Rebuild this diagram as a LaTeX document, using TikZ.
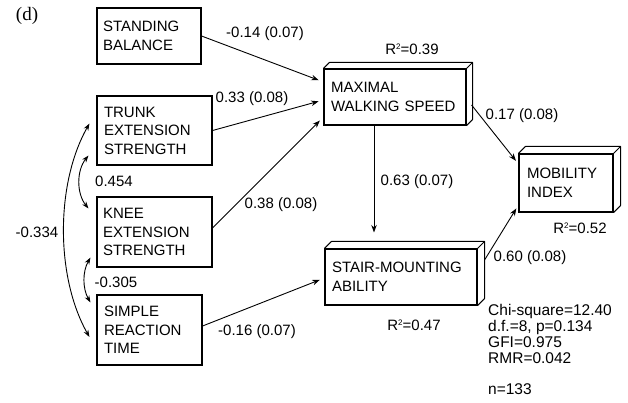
\documentclass[tikz,border=0pt]{standalone}
\usepackage{fontspec}
\setmainfont{Liberation Sans}
\newfontfamily\serifd{Liberation Serif}
\usetikzlibrary{arrows.meta}
\begin{document}
\begin{tikzpicture}[x=1pt,y=-1pt,
  vbox/.style={draw, line width=1.1pt, rectangle, align=left, inner ysep=0pt,
    font=\fontsize{15}{18.5}\selectfont},
  face/.style={line width=1pt, line join=round},
  arr/.style={-{Stealth[length=7.5pt,width=5.5pt]}, line width=0.9pt},
  darr/.style={{Stealth[length=7pt,width=5pt]}-{Stealth[length=7pt,width=5pt]}, line width=0.9pt},
  lab/.style={font=\fontsize{15}{18}\selectfont, inner sep=0pt},
  stats/.style={font=\fontsize{15.5}{16}\selectfont, inner sep=0pt, align=left, anchor=north west}]
\path[use as bounding box] (0,0) rectangle (628,402);

% panel letter
\node[inner sep=0pt, font=\serifd\fontsize{19}{21}\selectfont] (d) at (27,16) {(d)};

% exogenous variables
\node[vbox, minimum width=104pt, minimum height=56pt, text width=92pt, inner xsep=6pt] (sb) at (149,36) {STANDING\\BALANCE};
\node[vbox, minimum width=115pt, minimum height=69pt, text width=101pt, inner xsep=7pt] (tes) at (154.5,130.5) {TRUNK\\EXTENSION\\STRENGTH};
\node[vbox, minimum width=115pt, minimum height=70pt, text width=103pt, inner xsep=6pt] (kes) at (154.5,232) {KNEE\\EXTENSION\\STRENGTH};
\node[vbox, minimum width=105pt, minimum height=70pt, text width=91pt, inner xsep=7pt] (srt) at (149.5,330) {SIMPLE\\REACTION\\TIME};

% endogenous variables (3D boxes)
\node[vbox, minimum width=142pt, minimum height=56pt, text width=128pt, inner xsep=7pt] (mws) at (395,97) {MAXIMAL\\WALKING SPEED};
\node[vbox, minimum width=152pt, minimum height=56pt, text width=138pt, inner xsep=7pt] (sma) at (401,277) {STAIR-MOUNTING\\ABILITY};
\node[vbox, minimum width=94pt, minimum height=58pt, text width=78pt, inner xsep=8pt] (mi) at (566,183) {MOBILITY\\INDEX};

\draw[face] (mws.north west) -- ++(6pt,6pt) -- ([shift={(6pt,6pt)}]mws.north east) -- ([shift={(6pt,6pt)}]mws.south east) -- (mws.south east) (mws.north east) -- ++(6pt,6pt);
\draw[face] (sma.north west) -- ++(7pt,7pt) -- ([shift={(7pt,7pt)}]sma.north east) -- ([shift={(7pt,7pt)}]sma.south east) -- (sma.south east) (sma.north east) -- ++(7pt,7pt);
\draw[face] (mi.north west) -- ++(7pt,7pt) -- ([shift={(7pt,7pt)}]mi.north east) -- ([shift={(7pt,7pt)}]mi.south east) -- (mi.south east) (mi.north east) -- ++(7pt,7pt);

% paths
\draw[arr, shorten >=5pt] (sb.east) -- ([yshift=15pt]mws.west);
\draw[arr, shorten >=5pt] (tes.east) -- ([yshift=-3pt]mws.west);
\draw[arr, shorten >=5pt] ([yshift=4pt]kes.east) -- ([yshift=-20pt]mws.west);
\draw[arr, shorten >=5pt] ([yshift=4pt]srt.east) -- ([yshift=-1pt]sma.west);
\draw[arr] ([xshift=-21pt]mws.south) -- ([shift={(-27pt,16pt)}]sma.north);
\draw[arr, shorten >=4pt] ([shift={(5pt,-8pt)}]mws.east) -- ([yshift=19pt]mi.west);
\draw[arr, shorten >=4pt] ([shift={(7pt,17pt)}]sma.east) -- ([yshift=-22pt]mi.west);

% correlations
\coordinate (c1a) at ([shift={(-8pt,10pt)}]tes.south west);
\coordinate (c1b) at ([shift={(-8pt,-12pt)}]kes.north west);
\draw[darr] (c1a) .. controls +(-12,15) and +(-12,-15) .. (c1b);
\coordinate (c2a) at ([shift={(-6pt,10pt)}]kes.south west);
\coordinate (c2b) at ([shift={(-6pt,-8pt)}]srt.north west);
\draw[darr] (c2a) .. controls +(-8,14) and +(-8,-14) .. (c2b);
\coordinate (c3a) at ([shift={(-7pt,7pt)}]tes.west);
\coordinate (c3b) at ([shift={(-7pt,-7pt)}]srt.west);
\draw[darr] (c3a) .. controls +(-34,60) and +(-34,-60) .. (c3b);

% labels
\node[lab] (l1) at (265,34) {-0.14 (0.07)};
\node[lab] (l2) at (252,99) {0.33 (0.08)};
\node[lab] (l3) at (281,205) {0.38 (0.08)};
\node[lab] (l4) at (257,332) {-0.16 (0.07)};
\node[lab] (l5) at (114,181) {0.454};
\node[lab] (l6) at (116,282) {-0.305};
\node[lab] (l7) at (37,232) {-0.334};
\node[lab] (l8) at (522,116) {0.17 (0.08)};
\node[lab] (l9) at (417,182) {0.63 (0.07)};
\node[lab] (l10) at (530,258) {0.60 (0.08)};
\node[lab] (r1) at (412,49) {R\raisebox{5pt}{\fontsize{8}{8}\selectfont 2}=0.39};
\node[lab] (r2) at (580,228) {R\raisebox{5pt}{\fontsize{8}{8}\selectfont 2}=0.52};
\node[lab] (r3) at (414,325) {R\raisebox{5pt}{\fontsize{8}{8}\selectfont 2}=0.47};

% fit statistics
\node[stats] (fit) at (488,304) {Chi-square=12.40\\d.f.=8, p=0.134\\GFI=0.975\\RMR=0.042};
\node[stats] (n) at (488,383) {n=133};
\end{tikzpicture}
\end{document}
